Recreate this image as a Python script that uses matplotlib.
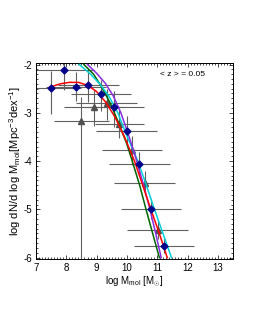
import matplotlib
matplotlib.use('Agg')
import matplotlib.pyplot as plt
import numpy as np

plt.rcParams['font.family'] = ['Liberation Sans', 'DejaVu Sans']
plt.rcParams['axes.unicode_minus'] = False
plt.rcParams['mathtext.fontset'] = 'custom'
plt.rcParams['mathtext.rm'] = 'Liberation Sans'
plt.rcParams['mathtext.it'] = 'Liberation Sans'

# Dados lidos da figura
# pontos azuis (diamantes)
dia_x = [7.49, 7.91, 8.32, 8.73, 9.14, 9.57, 9.99, 10.41, 10.79, 11.22]
dia_y = [-2.48, -2.12, -2.46, -2.42, -2.62, -2.89, -3.37, -4.06, -4.99, -5.75]
dia_yerr_lo = [0.55, 0.40, 0.30, 0.35, 0.35, 0.40, 0.30, 0.25, 0.20, 0.15]
dia_yerr_hi = [0.35, 0.15, 0.30, 0.30, 0.30, 0.35, 0.30, 0.25, 0.20, 0.15]
dia_xerr = [1.0, 1.0, 1.0, 1.0, 1.0, 1.0, 1.0, 1.0, 1.0, 1.0]

# triangulos cinza
tri_x = [8.50, 8.92, 9.33, 9.75, 10.17, 10.59, 11.01]
tri_y = [-3.17, -2.87, -2.80, -3.23, -3.78, -4.45, -5.42]
tri_yerr_lo = [5.0, 0.40, 0.35, 0.30, 0.30, 0.25, 0.20]
tri_yerr_hi = [0.50, 0.35, 0.30, 0.30, 0.30, 0.25, 0.20]
tri_xerr = [0.9, 1.0, 1.0, 0.8, 1.0, 1.0, 1.0]

# curvas (ajustes)
red_x = [7.45, 7.8, 8.1, 8.4, 8.7, 9.0, 9.3, 9.6, 9.92, 10.25, 10.52, 10.79, 11.07, 11.33]
red_y = [-2.47, -2.40, -2.37, -2.37, -2.43, -2.56, -2.78, -3.08, -3.5, -4.0, -4.5, -5.0, -5.5, -6.0]

green_x = [8.58, 8.9, 9.15, 9.45, 9.72, 10.0, 10.2, 10.42, 10.63, 10.85, 11.07]
green_y = [-2.0, -2.2, -2.45, -2.8, -3.2, -3.65, -4.05, -4.5, -5.0, -5.5, -6.0]

cyan_x = [8.43, 8.8, 9.1, 9.4, 9.7, 9.98, 10.36, 10.64, 10.91, 11.19, 11.47]
cyan_y = [-2.0, -2.2, -2.4, -2.65, -3.0, -3.45, -4.0, -4.5, -5.0, -5.5, -6.0]

purple_x = [8.7, 9.0, 9.3, 9.55, 9.8, 10.05, 10.3, 10.55, 10.76, 10.95, 11.13]
purple_y = [-2.0, -2.18, -2.4, -2.65, -3.0, -3.45, -3.95, -4.5, -5.0, -5.5, -6.0]

fig = plt.figure(figsize=(2.58, 3.33), dpi=100)
ax = fig.add_axes([0.1395, 0.222, 0.7636, 0.5886])

# barras de erro
ax.errorbar(tri_x, tri_y, xerr=tri_xerr, yerr=[tri_yerr_lo, tri_yerr_hi], fmt='^',
            color='#505050', ms=4, ecolor='#606060', elinewidth=0.8, capsize=0, zorder=2)
ax.errorbar(dia_x, dia_y, xerr=dia_xerr, yerr=[dia_yerr_lo, dia_yerr_hi], fmt='none',
            ecolor='#606060', elinewidth=0.8, capsize=0, zorder=2)

ax.plot(green_x, green_y, color='#006400', lw=1.1, zorder=3)
ax.plot(cyan_x, cyan_y, color='#00D0D8', lw=1.1, zorder=3)
ax.plot(purple_x, purple_y, color='#8A2BE2', lw=1.1, zorder=3)
ax.plot(red_x, red_y, color='#FF0000', lw=1.1, zorder=4)

ax.plot(dia_x, dia_y, 'D', color='#00008B', ms=3.5, zorder=5)

ax.text(11.85, -2.2, '< z > = 0.05', fontsize=6, ha='center', va='center')

ax.set_xlim(7, 13.5)
ax.set_ylim(-6.03, -1.97)
ax.set_xticks([7, 8, 9, 10, 11, 12, 13])
ax.set_yticks([-6, -5, -4, -3, -2])
ax.set_xticks(np.arange(7, 13.51, 0.1), minor=True)
ax.set_yticks(np.arange(-6, -1.99, 0.1), minor=True)
ax.tick_params(which='both', direction='in', top=True, right=True, labelsize=7, width=0.5, pad=3)
ax.tick_params(which='major', length=3)
ax.tick_params(which='minor', length=1.5)
for s in ax.spines.values():
    s.set_linewidth(0.7)

ax.set_xlabel(r'log M$_{\rm mol}$ [M$_{\odot}$]', fontsize=7, labelpad=1)
ax.set_ylabel(r'log dN/d log M$_{\rm mol}$[Mpc$^{-3}$dex$^{-1}$]', fontsize=8, labelpad=0)

plt.savefig('out.png', dpi=100)
